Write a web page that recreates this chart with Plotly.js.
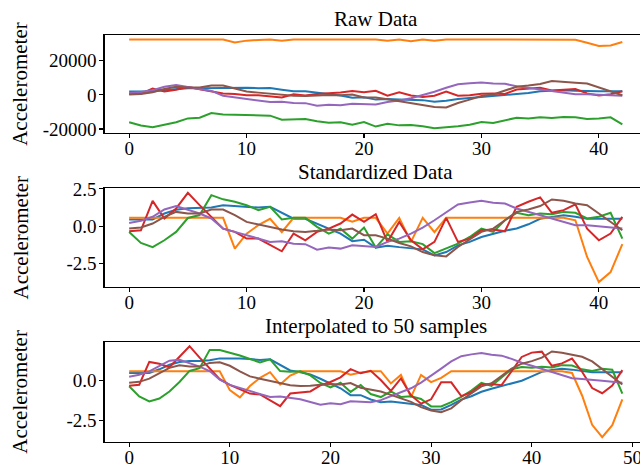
<!DOCTYPE html>
<html>
<head>
<meta charset="utf-8">
<script src="https://cdn.plot.ly/plotly-3.0.1.min.js"></script>
<style>
html,body{margin:0;padding:0;overflow:hidden;background:#fff;}
#chart{width:660px;height:466px;}
</style>
</head>
<body>
<div id="chart"></div>
<script>
// ---------- data ----------
const seriesNames = ["blue", "orange", "green", "red", "purple", "brown"];
const seriesColors = ["#1f77b4", "#ff7f0e", "#2ca02c", "#d62728", "#9467bd", "#8c564b"];

// Raw data (43 samples)
const rawBlue = [1900,1900,1900,2900,3550,3800,3800,3900,4300,4200,4200,3900,4050,3050,2050,2050,1250,400,-450,-1700,-1450,-2800,-2450,-2700,-2950,-3100,-4100,-3500,-2400,-1800,-1000,-450,50,400,1100,2050,2400,2650,2400,2050,2050,2050,2050];
const rawOrange = [32500,32500,32500,32500,32500,32500,32500,32500,32500,30700,31800,32200,32500,31800,32500,32500,32500,32500,32500,32300,32500,32500,31700,32500,31500,32500,31800,32500,32500,32500,32500,32500,32500,32500,32500,32500,32500,32500,32300,30500,28700,29000,31000];
const rawGreen = [-16100,-18000,-19000,-17700,-16100,-13800,-13400,-10700,-11500,-11600,-11800,-12400,-12200,-14600,-14400,-14200,-15500,-16300,-16100,-17500,-15900,-18600,-16900,-17900,-17700,-18400,-19600,-19200,-18400,-17500,-15900,-16500,-14800,-13400,-13800,-13200,-13600,-13000,-13200,-14200,-13800,-13200,-17300];
const rawRed = [570,680,3750,1910,2960,4590,3300,2080,850,510,-200,-200,-900,-1520,340,-370,510,850,1380,2320,1550,2360,-540,1550,-370,-1320,-540,1970,-540,-200,680,760,570,3130,3660,4110,2500,2780,3380,850,-370,340,2080];
const rawPurple = [1050,1630,2750,4790,5750,4620,3670,2290,-540,-1450,-2370,-3320,-4240,-4030,-4740,-4860,-6400,-5820,-6110,-5200,-5490,-5650,-4240,-3320,-1950,-240,1790,4120,6200,6740,7200,6660,6450,5080,4120,3210,2290,1340,420,420,130,-240,-540];
const rawBrown = [200,480,1580,3420,4770,4320,4320,5420,5420,3870,2030,1300,690,-50,-540,-700,-420,-50,-250,200,-1600,-1600,-2540,-3720,-4660,-6210,-7110,-7390,-4820,-2820,-700,200,2480,4770,5420,6360,8150,7790,7050,6600,4320,2030,-250];

// Standardized data (43 samples)
const stdBlue = [0.45,0.45,0.45,0.85,1.1,1.2,1.2,1.25,1.4,1.35,1.35,1.25,1.3,0.9,0.5,0.5,0.18,-0.15,-0.5,-1.0,-0.9,-1.43,-1.3,-1.4,-1.5,-1.55,-1.95,-1.73,-1.28,-1.05,-0.72,-0.5,-0.3,-0.15,0.13,0.5,0.63,0.74,0.63,0.5,0.5,0.5,0.5];
const stdOrange = [0.56,0.56,0.56,0.56,0.56,0.56,0.56,0.56,0.56,-1.5,-0.5,0.07,0.5,-0.4,0.56,0.56,0.56,0.56,0.56,0.3,0.56,0.56,-0.5,0.56,-1.05,0.56,-0.4,0.56,0.56,0.56,0.56,0.56,0.56,0.56,0.56,0.56,0.56,0.56,0.4,-2.06,-3.74,-3.07,-1.2];
const stdGreen = [-0.38,-1.12,-1.4,-0.94,-0.38,0.55,0.75,2.08,1.8,1.64,1.41,1.08,1.3,0.45,0.56,0.56,-0.04,-0.5,-0.16,-0.83,-0.09,-1.43,-0.54,-1.05,-1.0,-1.2,-1.8,-1.5,-1.17,-0.72,-0.16,-0.38,0.4,0.9,0.74,0.85,0.8,0.96,0.9,0.52,0.63,0.9,-0.83];
const stdRed = [-0.34,-0.27,1.7,0.52,1.19,2.24,1.41,0.63,-0.16,-0.38,-0.83,-0.83,-1.28,-1.68,-0.49,-0.94,-0.38,-0.16,0.18,0.78,0.29,0.81,-1.05,0.29,-0.94,-1.55,-1.05,0.56,-1.05,-0.83,-0.27,-0.22,-0.34,1.3,1.64,1.93,0.9,1.08,1.46,-0.16,-0.94,-0.49,0.63];
const stdPurple = [0.22,0.36,0.63,1.12,1.35,1.08,0.85,0.52,-0.16,-0.38,-0.6,-0.83,-1.05,-1.0,-1.17,-1.2,-1.57,-1.43,-1.5,-1.28,-1.35,-1.39,-1.05,-0.83,-0.5,-0.09,0.4,0.96,1.46,1.59,1.7,1.57,1.52,1.19,0.96,0.74,0.52,0.29,0.07,0.07,0,-0.09,-0.16];
const stdBrown = [-0.16,-0.09,0.18,0.63,0.96,0.85,0.85,1.12,1.12,0.74,0.29,0.11,-0.04,-0.22,-0.34,-0.38,-0.31,-0.22,-0.27,-0.16,-0.6,-0.6,-0.83,-1.12,-1.35,-1.73,-1.95,-2.02,-1.39,-0.9,-0.38,-0.16,0.4,0.96,1.12,1.35,1.79,1.7,1.52,1.41,0.85,0.29,-0.27];

// Interpolated to 50 samples
const intBlue = [0.45,0.45,0.45,0.68,0.96,1.13,1.2,1.2,1.24,1.36,1.37,1.35,1.32,1.26,1.3,0.96,0.61,0.5,0.36,0.09,-0.2,-0.5,-0.93,-0.93,-1.2,-1.37,-1.33,-1.41,-1.5,-1.54,-1.84,-1.82,-1.54,-1.21,-1.0,-0.72,-0.53,-0.36,-0.21,-0.03,0.24,0.52,0.63,0.72,0.66,0.56,0.5,0.5,0.5,0.5];
const intOrange = [0.56,0.56,0.56,0.56,0.56,0.56,0.56,0.56,0.56,0.56,-0.62,-1.07,-0.36,0.15,0.5,-0.27,0.29,0.56,0.56,0.56,0.56,0.56,0.34,0.48,0.56,0.56,-0.2,0.33,-1.05,0.33,-0.12,0.15,0.56,0.56,0.56,0.56,0.56,0.56,0.56,0.56,0.56,0.56,0.56,0.56,0.45,-0.95,-2.78,-3.55,-2.8,-1.2];
const intGreen = [-0.38,-1.01,-1.32,-1.14,-0.7,-0.11,0.58,0.75,1.89,1.88,1.71,1.54,1.32,1.11,1.3,0.57,0.53,0.56,0.3,-0.17,-0.45,-0.16,-0.73,-0.3,-0.86,-1.05,-0.69,-1.04,-1.0,-1.17,-1.63,-1.63,-1.36,-1.04,-0.64,-0.16,-0.35,0.18,0.69,0.83,0.77,0.84,0.8,0.94,0.92,0.68,0.57,0.71,0.65,-0.83];
const intRed = [-0.34,-0.28,1.14,1.03,0.81,1.49,2.12,1.41,0.74,0.07,-0.29,-0.57,-0.83,-0.89,-1.28,-1.62,-0.83,-0.75,-0.7,-0.32,-0.11,0.18,0.69,0.43,0.59,0.01,-0.67,0.11,-0.94,-1.46,-1.19,-0.13,-0.13,-0.99,-0.75,-0.27,-0.23,-0.31,0.6,1.45,1.72,1.78,0.9,1.05,1.35,0.53,-0.49,-0.81,-0.33,0.63];
const intPurple = [0.22,0.34,0.55,0.91,1.22,1.27,1.05,0.85,0.57,0.03,-0.29,-0.47,-0.67,-0.86,-1.05,-1.01,-1.12,-1.19,-1.36,-1.53,-1.44,-1.5,-1.31,-1.33,-1.37,-1.24,-0.99,-0.78,-0.5,-0.15,0.26,0.72,1.17,1.5,1.61,1.7,1.59,1.53,1.33,1.09,0.9,0.71,0.52,0.32,0.13,0.07,0.04,-0.03,-0.1,-0.16];
const intBrown = [-0.16,-0.1,0.1,0.44,0.77,0.93,0.85,0.85,1.08,1.12,0.9,0.55,0.24,0.09,-0.04,-0.19,-0.31,-0.36,-0.35,-0.28,-0.23,-0.27,-0.18,-0.47,-0.6,-0.7,-0.91,-1.15,-1.35,-1.68,-1.89,-1.99,-1.75,-1.25,-0.83,-0.38,-0.19,0.24,0.72,1.03,1.19,1.41,1.79,1.71,1.57,1.46,1.17,0.69,0.21,-0.27];

const panelTitles = ["Raw Data", "Standardized Data", "Interpolated to 50 samples"];
const yLabel = "Accelerometer";
const xTicks43 = [0, 10, 20, 30, 40];
const xTicks50 = [0, 10, 20, 30, 40, 50];
const yTicksRaw = [-20000, 0, 20000];
const yTickTextRaw = ["-20000", "0", "20000"];
const yTicksStd = [-2.5, 0, 2.5];
const yTickTextStd = ["-2.5", "0.0", "2.5"];
const yTicksInt = [-2.5, 0];
const yTickTextInt = ["-2.5", "0.0"];

// ---------- build ----------
const panels = [
  [rawBlue, rawOrange, rawGreen, rawRed, rawPurple, rawBrown],
  [stdBlue, stdOrange, stdGreen, stdRed, stdPurple, stdBrown],
  [intBlue, intOrange, intGreen, intRed, intPurple, intBrown]
];
const traces = [];
panels.forEach((panel, p) => {
  panel.forEach((vals, s) => {
    traces.push({
      x: vals.map((_, i) => i),
      y: vals,
      type: "scatter",
      mode: "lines",
      name: seriesNames[s],
      line: {color: seriesColors[s], width: 2},
      xaxis: p === 0 ? "x" : "x" + (p + 1),
      yaxis: p === 0 ? "y" : "y" + (p + 1),
      showlegend: false,
      hoverinfo: "skip"
    });
  });
});

const W = 660, H = 466;
const px = (l, r) => [l / W, r / W];
const py = (top, bottom) => [(H - bottom) / H, (H - top) / H];
const xDom = px(104.5, 647);
const yDoms = [py(35, 132.7), py(188.3, 286.7), py(341.7, 441.7)];

const FAMILY = "Liberation Serif";
const TICK = {family: FAMILY, color: "#000", size: 19};
const TXT = {family: FAMILY, color: "#000", size: 21};
function baseAxis() {
  return {showline: true, mirror: true, linecolor: "#000", linewidth: 1.1, ticks: "outside",
    ticklen: 4, tickwidth: 1.1, tickcolor: "#000", showgrid: false, zeroline: false,
    tickfont: TICK, fixedrange: true};
}
function xax(range, ticks, anchor) {
  return Object.assign(baseAxis(), {domain: xDom, range: range, tickvals: ticks,
    ticktext: ticks.map(String), anchor: anchor, ticklabelstandoff: -6});
}
function yax(range, ticks, text, dom, anchor) {
  return Object.assign(baseAxis(), {domain: dom, range: range, tickvals: ticks,
    ticktext: text, anchor: anchor, ticklabelstandoff: -1});
}

const annotations = [];
yDoms.forEach((d, i) => {
  annotations.push({text: panelTitles[i], xref: "paper", yref: "paper",
    x: (xDom[0] + xDom[1]) / 2, y: d[1], xanchor: "center", yanchor: "bottom", yshift: 2,
    showarrow: false, font: TXT});
  annotations.push({text: yLabel, xref: "paper", yref: "paper", textangle: -90,
    x: 20 / W, y: (d[0] + d[1]) / 2, xanchor: "center", yanchor: "middle",
    showarrow: false, font: TXT});
});

const layout = {
  width: W, height: H,
  margin: {l: 0, r: 0, t: 0, b: 0, pad: 0},
  paper_bgcolor: "#fff", plot_bgcolor: "#fff",
  font: {family: FAMILY, color: "#000"},
  showlegend: false,
  xaxis: xax([-2.1, 44.1], xTicks43, "y"),
  yaxis: yax([-22200, 35100], yTicksRaw, yTickTextRaw, yDoms[0], "x"),
  xaxis2: xax([-2.1, 44.1], xTicks43, "y2"),
  yaxis2: yax([-4.05, 2.54], yTicksStd, yTickTextStd, yDoms[1], "x2"),
  xaxis3: xax([-2.45, 51.45], xTicks50, "y3"),
  yaxis3: yax([-3.83, 2.40], yTicksInt, yTickTextInt, yDoms[2], "x3"),
  annotations: annotations
};

Plotly.newPlot("chart", traces, layout, {displayModeBar: false, staticPlot: true});
</script>
</body>
</html>
